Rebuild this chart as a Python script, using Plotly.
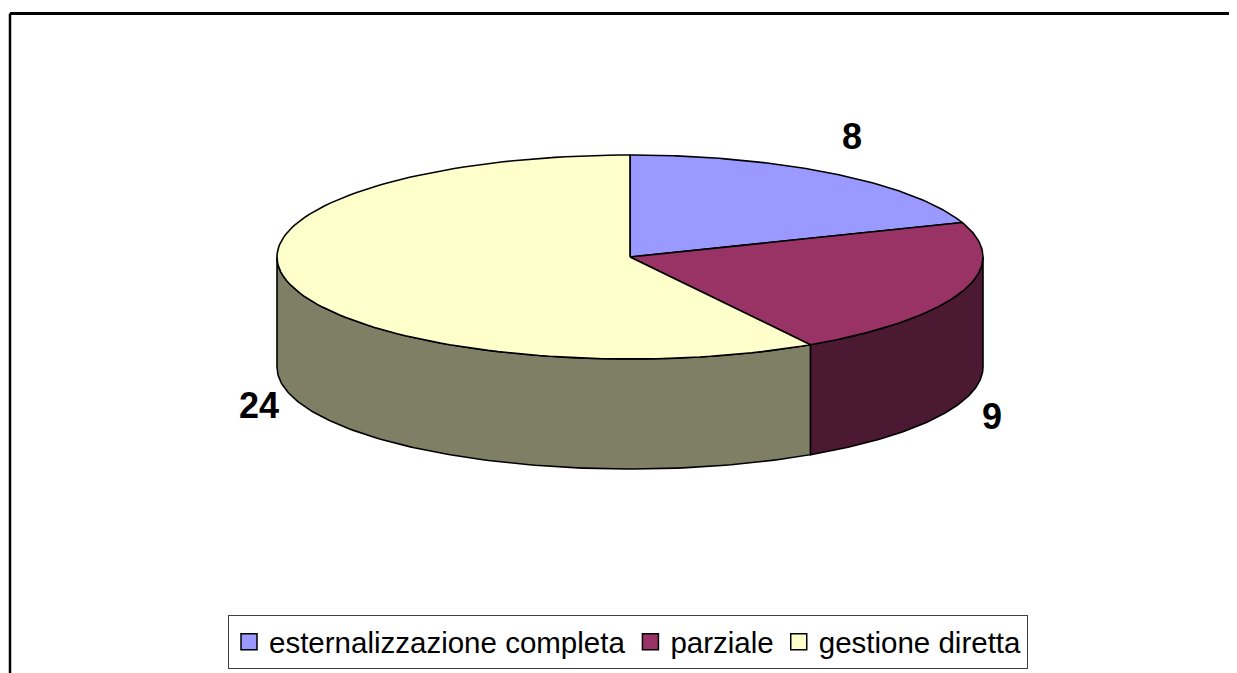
import math
import plotly.graph_objects as go

# ---- data ----
categories = ["esternalizzazione completa", "parziale", "gestione diretta"]
values = [8, 9, 24]
top_colors = ["#9999FF", "#993366", "#FFFFCC"]
side_colors = ["#4C4C80", "#4C1933", "#7F7F66"]

# ---- layout constants (screen pixels) ----
W, H = 1237, 673
PAGE = 8  # default page margin around the plot div
CX, CY = 630, 257
RX, RY = 353, 102
DEPTH = 110
LABEL_OFF_X, LABEL_OFF_Y = 32, 45


def px(v):  # screen x -> paper fraction
    return (v - PAGE) / W


def py(v):  # screen y -> paper fraction
    return 1 - (v - PAGE) / H


def pt(t, dy=0.0):
    return CX + RX * math.sin(t), CY - RY * math.cos(t) + dy


def arc(a, b, dy=0.0, n=120):
    xs, ys = [], []
    for i in range(n + 1):
        t = a + (b - a) * i / n
        x, y = pt(t, dy)
        xs.append(x)
        ys.append(y)
    return xs, ys


total = sum(values)
bounds = [0.0]
for v in values:
    bounds.append(bounds[-1] + 2 * math.pi * v / total)

fig = go.Figure()

# sides (front half only: angles between 90deg and 270deg)
for i, v in enumerate(values):
    a = max(bounds[i], math.pi / 2)
    b = min(bounds[i + 1], 3 * math.pi / 2)
    if a >= b:
        continue
    xt, yt = arc(a, b)
    xb, yb = arc(b, a, DEPTH)
    fig.add_trace(go.Scatter(
        x=xt + xb + [xt[0]], y=yt + yb + [yt[0]],
        mode="lines", fill="toself", fillcolor=side_colors[i],
        line=dict(color="black", width=1.6),
        hoverinfo="skip", showlegend=False))

# tops
for i, v in enumerate(values):
    xa, ya = arc(bounds[i], bounds[i + 1])
    fig.add_trace(go.Scatter(
        x=[CX] + xa + [CX], y=[CY] + ya + [CY],
        mode="lines", fill="toself", fillcolor=top_colors[i],
        line=dict(color="black", width=1.6),
        hoverinfo="text", text=f"{categories[i]}: {v}", showlegend=False))

# legend entries
for i, c in enumerate(categories):
    fig.add_trace(go.Scatter(
        x=[None], y=[None], mode="markers", name=c,
        marker=dict(symbol="square", size=18, color=top_colors[i],
                    line=dict(color="black", width=1.5))))

# value labels
for i, v in enumerate(values):
    m = (bounds[i] + bounds[i + 1]) / 2
    front = math.pi / 2 < m < 3 * math.pi / 2
    x, y = pt(m, DEPTH if front else 0)
    lx = x + LABEL_OFF_X * math.sin(m)
    ly = y - LABEL_OFF_Y * math.cos(m)
    fig.add_annotation(x=lx, y=ly, xref="x", yref="y", text=f"<b>{v}</b>",
                       showarrow=False,
                       font=dict(family="Liberation Sans, Arial, sans-serif",
                                 size=36, color="black"))

# chart frame (top and left edges visible)
fig.add_shape(type="line", xref="paper", yref="paper",
              x0=px(10), x1=1.05, y0=py(13.5), y1=py(13.5),
              line=dict(color="black", width=3))
fig.add_shape(type="line", xref="paper", yref="paper",
              x0=px(10), x1=px(10), y0=py(13.5), y1=-0.05,
              line=dict(color="black", width=2.5))

fig.update_layout(
    width=W, height=H,
    margin=dict(l=0, r=0, t=0, b=0),
    paper_bgcolor="white", plot_bgcolor="white",
    xaxis=dict(range=[PAGE, W + PAGE], visible=False, fixedrange=True),
    yaxis=dict(range=[H + PAGE, PAGE], visible=False, fixedrange=True),
    showlegend=True,
    legend=dict(
        orientation="h", x=px(228), xanchor="left",
        y=py(615), yanchor="top",
        bordercolor="#404040", borderwidth=1, bgcolor="white",
        font=dict(family="Liberation Sans, Arial, sans-serif",
                  size=29.5, color="black"),
        itemsizing="trace",
    ),
)

fig.write_html("out.html")
